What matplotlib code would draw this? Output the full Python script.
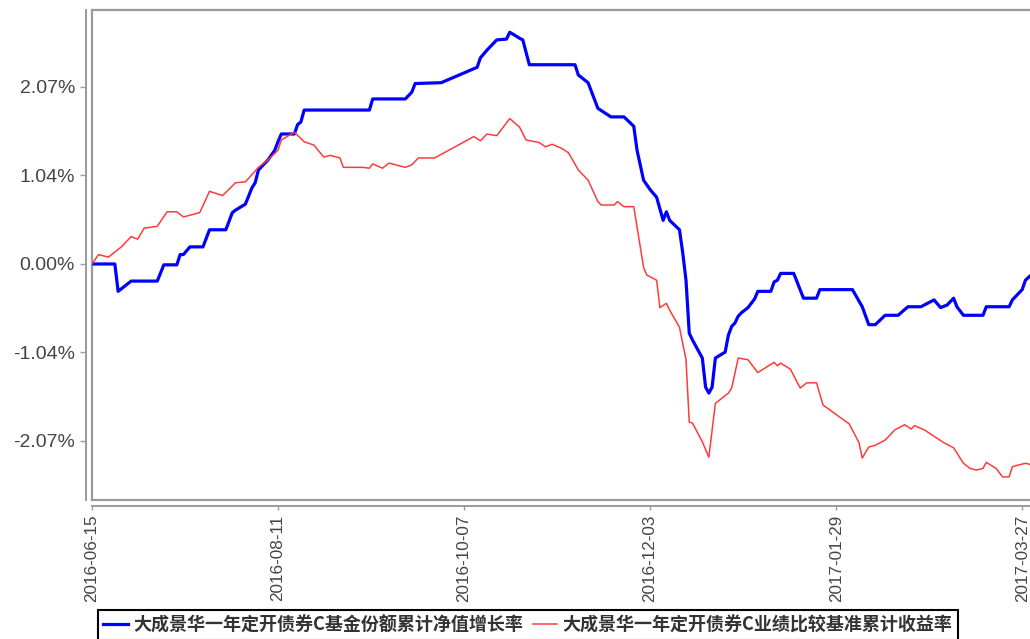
import matplotlib
matplotlib.use("Agg")
import matplotlib.pyplot as plt
import pandas as pd
from matplotlib.lines import Line2D
from matplotlib.font_manager import FontProperties

# 大成景华一年定开债券C基金份额累计净值增长率 (%)
blue_dates = [
    "2016-06-15", "2016-06-22", "2016-06-23", "2016-06-27", "2016-07-05", "2016-07-07",
    "2016-07-11", "2016-07-12", "2016-07-13", "2016-07-15", "2016-07-19", "2016-07-21",
    "2016-07-26", "2016-07-28", "2016-07-29", "2016-08-01", "2016-08-03", "2016-08-04",
    "2016-08-05", "2016-08-08", "2016-08-10", "2016-08-11", "2016-08-12", "2016-08-16",
    "2016-08-17", "2016-08-18", "2016-08-19", "2016-09-08", "2016-09-09", "2016-09-19",
    "2016-09-21", "2016-09-22", "2016-09-30", "2016-10-11", "2016-10-12", "2016-10-14",
    "2016-10-17", "2016-10-20", "2016-10-21", "2016-10-24", "2016-10-25", "2016-10-27",
    "2016-11-10", "2016-11-11", "2016-11-14", "2016-11-17", "2016-11-21", "2016-11-25",
    "2016-11-28", "2016-11-29", "2016-12-01", "2016-12-03", "2016-12-05", "2016-12-07",
    "2016-12-08", "2016-12-09", "2016-12-12", "2016-12-13", "2016-12-14", "2016-12-15",
    "2016-12-16", "2016-12-19", "2016-12-20", "2016-12-21", "2016-12-22", "2016-12-23",
    "2016-12-26", "2016-12-27", "2016-12-28", "2016-12-29", "2016-12-30", "2016-12-31",
    "2017-01-02", "2017-01-04", "2017-01-05", "2017-01-09", "2017-01-10", "2017-01-11",
    "2017-01-12", "2017-01-16", "2017-01-19", "2017-01-23", "2017-01-24", "2017-02-03",
    "2017-02-06", "2017-02-08", "2017-02-10", "2017-02-13", "2017-02-17", "2017-02-20",
    "2017-02-24", "2017-02-28", "2017-03-02", "2017-03-04", "2017-03-06", "2017-03-07",
    "2017-03-09", "2017-03-15", "2017-03-16", "2017-03-23", "2017-03-24", "2017-03-26",
    "2017-03-27", "2017-03-28", "2017-03-30",
]
blue_vals = [
    0.00, 0.00, -0.32, -0.20, -0.20, -0.01,
    -0.01, 0.11, 0.11, 0.20, 0.20, 0.40,
    0.40, 0.60, 0.63, 0.70, 0.89, 0.95,
    1.10, 1.22, 1.33, 1.43, 1.52, 1.52,
    1.63, 1.66, 1.80, 1.80, 1.93, 1.93,
    2.01, 2.11, 2.12, 2.30, 2.41, 2.50,
    2.62, 2.63, 2.71, 2.64, 2.62, 2.33,
    2.33, 2.21, 2.12, 1.82, 1.72, 1.72,
    1.61, 1.33, 0.98, 0.87, 0.78, 0.51,
    0.61, 0.51, 0.40, 0.13, -0.19, -0.81,
    -0.89, -1.10, -1.44, -1.51, -1.44, -1.10,
    -1.03, -0.83, -0.73, -0.69, -0.61, -0.57,
    -0.51, -0.41, -0.32, -0.32, -0.21, -0.19,
    -0.11, -0.11, -0.40, -0.40, -0.30, -0.30,
    -0.50, -0.71, -0.71, -0.60, -0.60, -0.50,
    -0.50, -0.42, -0.51, -0.48, -0.40, -0.50,
    -0.60, -0.60, -0.50, -0.50, -0.42, -0.34,
    -0.30, -0.19, -0.12,
]

# 大成景华一年定开债券C业绩比较基准累计收益率 (%)
red_dates = [
    "2016-06-15", "2016-06-17", "2016-06-20", "2016-06-22", "2016-06-24", "2016-06-27",
    "2016-06-29", "2016-07-01", "2016-07-05", "2016-07-08", "2016-07-11", "2016-07-13",
    "2016-07-18", "2016-07-21", "2016-07-25", "2016-07-29", "2016-08-01", "2016-08-05",
    "2016-08-08", "2016-08-11", "2016-08-12", "2016-08-16", "2016-08-19", "2016-08-22",
    "2016-08-25", "2016-08-27", "2016-08-30", "2016-08-31", "2016-09-06", "2016-09-08",
    "2016-09-09", "2016-09-12", "2016-09-14", "2016-09-19", "2016-09-21", "2016-09-23",
    "2016-09-28", "2016-10-10", "2016-10-12", "2016-10-14", "2016-10-17", "2016-10-21",
    "2016-10-24", "2016-10-26", "2016-10-30", "2016-11-01", "2016-11-03", "2016-11-06",
    "2016-11-08", "2016-11-11", "2016-11-14", "2016-11-17", "2016-11-18", "2016-11-22",
    "2016-11-23", "2016-11-25", "2016-11-28", "2016-12-01", "2016-12-02", "2016-12-05",
    "2016-12-06", "2016-12-08", "2016-12-09", "2016-12-12", "2016-12-14", "2016-12-15",
    "2016-12-16", "2016-12-19", "2016-12-21", "2016-12-23", "2016-12-27", "2016-12-28",
    "2016-12-30", "2017-01-02", "2017-01-05", "2017-01-10", "2017-01-11", "2017-01-12",
    "2017-01-15", "2017-01-17", "2017-01-18", "2017-01-20", "2017-01-23", "2017-01-25",
    "2017-02-02", "2017-02-05", "2017-02-06", "2017-02-08", "2017-02-10", "2017-02-13",
    "2017-02-16", "2017-02-19", "2017-02-21", "2017-02-22", "2017-02-25", "2017-03-03",
    "2017-03-06", "2017-03-09", "2017-03-11", "2017-03-13", "2017-03-15", "2017-03-16",
    "2017-03-19", "2017-03-21", "2017-03-23", "2017-03-24", "2017-03-28", "2017-03-30",
]
red_vals = [
    0.00, 0.11, 0.08, 0.14, 0.20, 0.32,
    0.29, 0.42, 0.44, 0.61, 0.61, 0.55,
    0.60, 0.85, 0.80, 0.95, 0.96, 1.13,
    1.22, 1.33, 1.45, 1.54, 1.43, 1.39,
    1.25, 1.27, 1.24, 1.13, 1.13, 1.12,
    1.17, 1.12, 1.18, 1.13, 1.16, 1.24,
    1.24, 1.49, 1.44, 1.52, 1.50, 1.70,
    1.60, 1.45, 1.42, 1.37, 1.40, 1.35,
    1.30, 1.10, 0.98, 0.73, 0.69, 0.69,
    0.73, 0.67, 0.67, -0.04, -0.13, -0.19,
    -0.51, -0.46, -0.54, -0.74, -1.12, -1.85,
    -1.86, -2.08, -2.26, -1.63, -1.51, -1.45,
    -1.10, -1.12, -1.27, -1.15, -1.19, -1.16,
    -1.23, -1.38, -1.45, -1.39, -1.39, -1.65,
    -1.87, -2.09, -2.27, -2.14, -2.12, -2.06,
    -1.94, -1.88, -1.93, -1.89, -1.94, -2.09,
    -2.15, -2.33, -2.39, -2.41, -2.39, -2.32,
    -2.39, -2.49, -2.49, -2.37, -2.33, -2.35,
]

xtick_dates = ["2016-06-15", "2016-08-11", "2016-10-07", "2016-12-03", "2017-01-29", "2017-03-27"]
ytick_vals = [-2.07, -1.035, 0.0, 1.035, 2.07]
ytick_labels = ["-2.07%", "-1.04%", "0.00%", "1.04%", "2.07%"]
labels = ["大成景华一年定开债券C基金份额累计净值增长率", "大成景华一年定开债券C业绩比较基准累计收益率"]

W, H = 1030, 639
FRAME = "#9a9a9a"
TICK_TEXT = "#444444"
LATIN = ["Liberation Sans", "DejaVu Sans"]

fig = plt.figure(figsize=(W / 100, H / 100), dpi=100)
ax = fig.add_axes([92 / W, 1 - 500 / H, 1 - 92 / W, 490 / H])

# axis lines offset from the plot frame (double-line look); set first, it resets ticks
for s in ("left", "bottom"):
    ax.spines[s].set_position(("outward", 4.3))
    ax.spines[s].set_color(FRAME)
    ax.spines[s].set_linewidth(1.4)
ax.spines["right"].set_visible(False)
ax.spines["top"].set_color(FRAME)
ax.spines["top"].set_linewidth(1.6)
for xs, ys in (([0, 0], [0, 1]), ([0, 1], [0, 0])):
    ax.add_line(Line2D(xs, ys, transform=ax.transAxes, color=FRAME, lw=1.6, clip_on=False))

ax.plot(pd.to_datetime(blue_dates), blue_vals, color="#0000ff", lw=2.3, zorder=3)
ax.plot(pd.to_datetime(red_dates), red_vals, color="#ff3b3b", lw=1.1, zorder=4)

start = pd.Timestamp("2016-06-15")
ax.set_xlim(start, start + pd.Timedelta(days=287.4))
ax.set_ylim(-2.76, 2.97)

ax.set_yticks(ytick_vals, ytick_labels)
ax.set_xticks(pd.to_datetime(xtick_dates), xtick_dates)
ax.tick_params(axis="y", length=4, width=1, color=FRAME, pad=4, labelsize=14, labelcolor=TICK_TEXT)
ax.tick_params(axis="x", length=3, width=1, color=FRAME, pad=3, labelsize=12.3,
               labelcolor=TICK_TEXT, labelrotation=90)
for t in ax.get_xticklabels() + ax.get_yticklabels():
    t.set_family(LATIN)

handles = [Line2D([], [], color="#0000ff", lw=2.3), Line2D([], [], color="#ff3b3b", lw=1.1)]
leg = fig.legend(handles, labels, loc="upper left", bbox_to_anchor=(98 / W, 1 - 610 / H),
                 ncol=2, frameon=True, fancybox=False, edgecolor="black", framealpha=1,
                 prop=FontProperties(family=["Noto Sans CJK SC", "DejaVu Sans"], weight="bold", size=13),
                 borderaxespad=0, borderpad=0.3, handlelength=1.35, handletextpad=0.3,
                 columnspacing=0.55)
leg.get_frame().set_linewidth(1.5)
for t in leg.get_texts():
    t.set_color("#333333")

fig.savefig("out.png", dpi=100)
